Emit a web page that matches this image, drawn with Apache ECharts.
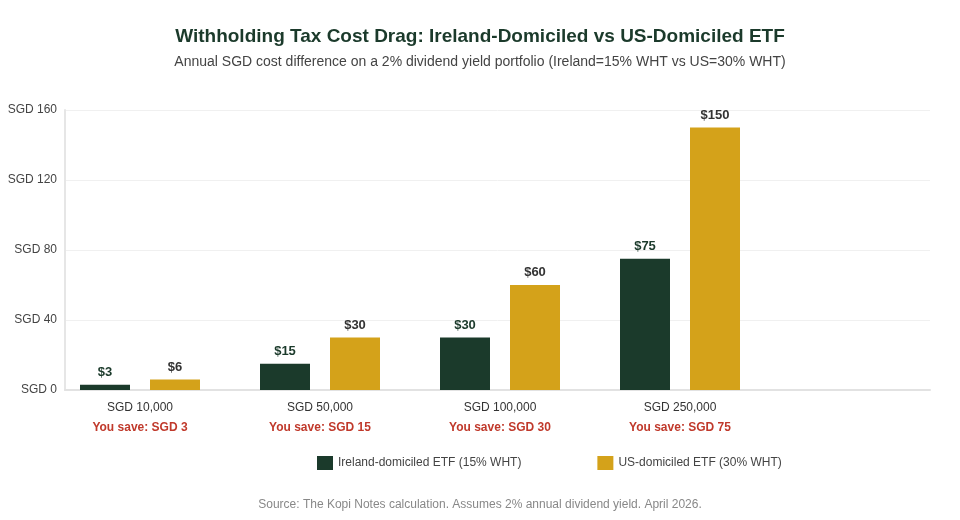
<!DOCTYPE html>
<html>
<head>
<meta charset="utf-8">
<script src="https://cdn.jsdelivr.net/npm/echarts@6/dist/echarts.min.js"></script>
<style>
  html, body { margin: 0; padding: 0; background: #fff; }
  #chart { width: 960px; height: 520px; }
</style>
</head>
<body>
<div id="chart"></div>
<script>
// data
const portfolios = ['SGD 10,000', 'SGD 50,000', 'SGD 100,000', 'SGD 250,000', '']
const savings = [3, 15, 30, 75]
const irelandCost = [3, 15, 30, 75]
const usCost = [6, 30, 60, 150]
const yTicks = [0, 40, 80, 120, 160]

const GREEN = '#1b3a2b'
const GOLD = '#d4a21a'
const FONT = '"Liberation Sans", Arial, sans-serif'

const chart = echarts.init(document.getElementById('chart'))

const option = {
  textStyle: { fontFamily: FONT },
  title: [
    {
      text: 'Withholding Tax Cost Drag: Ireland-Domiciled vs US-Domiciled ETF',
      left: 'center',
      top: 22,
      textStyle: { fontSize: 19, fontWeight: 'bold', color: GREEN, fontFamily: FONT }
    },
    {
      text: 'Annual SGD cost difference on a 2% dividend yield portfolio (Ireland=15% WHT vs US=30% WHT)',
      left: 'center',
      top: 50,
      textStyle: { fontSize: 14, fontWeight: 'normal', color: '#444', fontFamily: FONT }
    },
    {
      text: 'Source: The Kopi Notes calculation. Assumes 2% annual dividend yield. April 2026.',
      left: 'center',
      top: 494,
      textStyle: { fontSize: 12, fontWeight: 'normal', color: '#888', fontFamily: FONT }
    }
  ],
  legend: {
    top: 451,
    left: 312,
    itemWidth: 16,
    itemHeight: 14,
    itemGap: 76,
    icon: 'rect',
    textStyle: { fontSize: 12, color: '#444', fontFamily: FONT },
    data: ['Ireland-domiciled ETF (15% WHT)', 'US-domiciled ETF (30% WHT)']
  },
  grid: [
    // grid for the bars: 180px per category
    { left: 50, width: 900, top: 110, height: 280 },
    // decorative grid for axis lines / split lines
    { left: 65, right: 30, top: 110, height: 280 }
  ],
  xAxis: [
    {
      type: 'category',
      gridIndex: 0,
      data: portfolios,
      axisLine: { show: false },
      axisTick: { show: false },
      axisLabel: {
        interval: 0,
        margin: 8,
        formatter: (v, i) => v ? `{a|${v}}\n{b|You save: SGD ${savings[i]}}` : '',
        rich: {
          a: { fontSize: 12, color: '#333', lineHeight: 20, fontFamily: FONT },
          b: { fontSize: 12, color: '#c0392b', fontWeight: 'bold', lineHeight: 20, fontFamily: FONT }
        }
      }
    },
    {
      type: 'value',
      gridIndex: 1,
      min: 0,
      max: 1,
      axisLine: { show: true, lineStyle: { color: '#e2e2e2', width: 2 } },
      axisTick: { show: false },
      axisLabel: { show: false },
      splitLine: { show: false }
    }
  ],
  yAxis: [
    {
      type: 'value',
      gridIndex: 0,
      min: yTicks[0],
      max: yTicks[yTicks.length - 1],
      interval: 40,
      show: false
    },
    {
      type: 'value',
      gridIndex: 1,
      min: yTicks[0],
      max: yTicks[yTicks.length - 1],
      interval: 40,
      axisLine: { show: true, lineStyle: { color: '#e6e6e6', width: 2 } },
      axisTick: { show: false },
      axisLabel: {
        margin: 8,
        fontSize: 12,
        color: '#444',
        fontFamily: FONT,
        formatter: v => 'SGD ' + v
      },
      splitLine: { lineStyle: { color: '#f0f0f0', width: 1 } }
    }
  ],
  series: [
    {
      name: 'Ireland-domiciled ETF (15% WHT)',
      type: 'bar',
      xAxisIndex: 0,
      yAxisIndex: 0,
      data: irelandCost,
      barWidth: 50,
      barGap: '40%',
      itemStyle: { color: GREEN },
      label: {
        show: true,
        position: 'top',
        distance: 6,
        formatter: p => '$' + p.value,
        fontSize: 13,
        fontWeight: 'bold',
        color: GREEN,
        fontFamily: FONT
      }
    },
    {
      name: 'US-domiciled ETF (30% WHT)',
      type: 'bar',
      xAxisIndex: 0,
      yAxisIndex: 0,
      data: usCost,
      barWidth: 50,
      barGap: '40%',
      itemStyle: { color: GOLD },
      label: {
        show: true,
        position: 'top',
        distance: 6,
        formatter: p => '$' + p.value,
        fontSize: 13,
        fontWeight: 'bold',
        color: '#333',
        fontFamily: FONT
      }
    }
  ]
}

chart.setOption(option)
</script>
</body>
</html>
